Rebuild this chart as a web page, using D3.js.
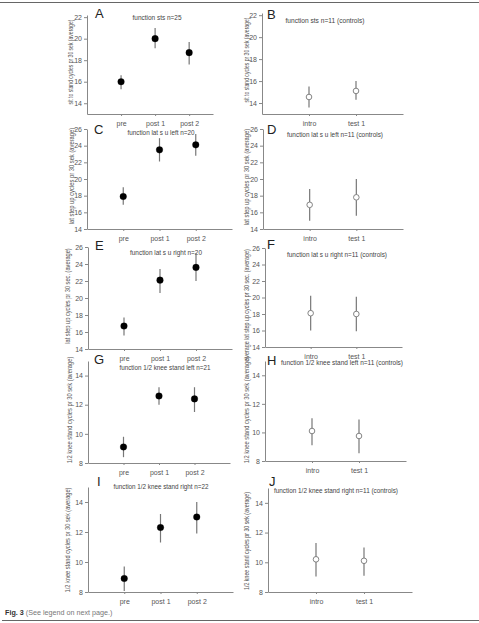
<!DOCTYPE html>
<html>
<head>
<meta charset="utf-8">
<script src="https://cdn.jsdelivr.net/npm/d3@7"></script>
<style>
  body { margin: 0; background: #fff; }
  text { font-family: "Liberation Sans", Arial, sans-serif; }
  .axis path, .axis line { stroke: #888; stroke-width: 1; }
  .axis text { fill: #555; font-size: 7px; }
</style>
</head>
<body>
<div id="chart"></div>
<script>
const groupCats = ["pre", "post 1", "post 2"];
const controlCats = ["intro", "test 1"];
const panelLetters = ["A", "B", "C", "D", "E", "F", "G", "H", "I", "J"];
const panelTitles = [
  "function sts n=25",
  "function sts n=11 (controls)",
  "function lat s u left n=20",
  "function lat s u left  n=11 (controls)",
  "function lat s u right n=20",
  "function lat s u right n=11 (controls)",
  "function 1/2 knee stand left n=21",
  "function 1/2 knee stand left n=11 (controls)",
  "function 1/2 knee stand right n=22",
  "function 1/2 knee stand right n=11 (controls)"
];
const yLabels = [
  "sit to stand cycles pr 30 sek (average)",
  "sit to stand cycles pr 30 sek (average)",
  "lat step up cycles pr 30 sek (average)",
  "lat step up cycles pr 30 sek (average)",
  "lat step up cycles pr 30 sec. (average)",
  "average lat step up cycles pr 30 sec. (average)",
  "1/2 knee stand cycles pr 30 sek (average)",
  "1/2 knee stand cycles pr 30 sek (average)",
  "1/2 knee stand cycles pr 30 sek (average)",
  "1/2 knee stand cycles pr 30 sek (average)"
];
const meanValues = [
  [16.0, 20.0, 18.7], [14.55, 15.1],
  [17.9, 23.5, 24.1], [16.9, 17.8],
  [16.7, 22.1, 23.6], [18.1, 18.0],
  [9.1, 12.6, 12.4], [10.1, 9.75],
  [8.9, 12.3, 13.0], [10.2, 10.1]
];
const upperValues = [
  [16.6, 21.0, 19.7], [15.5, 16.0],
  [19.0, 24.9, 25.4], [18.8, 20.0],
  [17.7, 23.4, 25.3], [20.2, 20.1],
  [9.8, 13.2, 13.2], [11.0, 10.9],
  [9.7, 13.2, 14.0], [11.3, 11.0]
];
const lowerValues = [
  [15.3, 19.1, 17.6], [13.6, 14.3],
  [16.9, 22.1, 22.8], [15.0, 15.6],
  [15.6, 20.6, 22.0], [16.0, 15.9],
  [8.4, 12.0, 11.5], [9.1, 8.55],
  [8.07, 11.3, 11.9], [9.05, 9.1]
];
const yDomains = [
  [13, 22.2], [13, 22.2],
  [14, 26], [14, 26], [14, 26], [14, 26],
  [8, 15], [8, 15], [8, 15], [8, 15]
];
const yTickValues = [
  [14, 16, 18, 20, 22], [14, 16, 18, 20, 22],
  [14, 16, 18, 20, 22, 24, 26], [14, 16, 18, 20, 22, 24, 26],
  [14, 16, 18, 20, 22, 24, 26], [14, 16, 18, 20, 22, 24, 26],
  [8, 10, 12, 14], [8, 10, 12, 14], [8, 10, 12, 14], [8, 10, 12, 14]
];

// pixel layout of each panel (axis corner, ends, label spots)
const layout = [
  {x0: 87,  x1: 213, slots: 3.7, yb: 114, yt: 15,  lx: 71,  ly: 62,  ll: 100, tx: 157, ty: 20,  tl: 49,  ax: 95,  ay: 18},
  {x0: 262, x1: 403, slots: 3,   yb: 114, yt: 13,  lx: 247, ly: 60,  ll: 100, tx: 325, ty: 23,  tl: 79,  ax: 267, ay: 19},
  {x0: 87,  x1: 232, slots: 4,   yb: 229, yt: 129, lx: 72,  ly: 176, ll: 112, tx: 161, ty: 135, tl: 67,  ax: 94,  ay: 134},
  {x0: 263, x1: 403, slots: 3,   yb: 229, yt: 129, lx: 247, ly: 177, ll: 112, tx: 335, ty: 137, tl: 96,  ax: 267, ay: 134},
  {x0: 88,  x1: 232, slots: 4,   yb: 349, yt: 247, lx: 68,  ly: 296, ll: 112, tx: 166, ty: 255, tl: 72,  ax: 95,  ay: 250},
  {x0: 265, x1: 402, slots: 3,   yb: 347, yt: 248, lx: 247, ly: 305, ll: 128, tx: 337, ty: 257, tl: 100, ax: 267, ay: 249},
  {x0: 88,  x1: 230, slots: 4,   yb: 463, yt: 361, lx: 70,  ly: 410, ll: 120, tx: 165, ty: 370, tl: 91,  ax: 94,  ay: 364},
  {x0: 265, x1: 406, slots: 3,   yb: 461, yt: 361, lx: 247, ly: 410, ll: 120, tx: 342, ty: 365, tl: 122, ax: 267, ay: 365},
  {x0: 88,  x1: 233, slots: 4,   yb: 592, yt: 487, lx: 68,  ly: 540, ll: 118, tx: 161, ty: 489, tl: 95,  ax: 97,  ay: 486},
  {x0: 268, x1: 412, slots: 3,   yb: 592, yt: 488, lx: 247, ly: 541, ll: 110, tx: 336, ty: 493, tl: 124, ax: 269, ay: 486}
];

const width = 479, height = 623;

const svg = d3.select("#chart").append("svg")
  .attr("width", width).attr("height", height);

svg.append("rect").attr("width", width).attr("height", height).attr("fill", "#fff");

// frame lines top and bottom
svg.append("line").attr("x1", 0).attr("x2", width).attr("y1", 2.5).attr("y2", 2.5)
  .attr("stroke", "#666").attr("stroke-width", 1);
svg.append("line").attr("x1", 2).attr("x2", width).attr("y1", 620.5).attr("y2", 620.5)
  .attr("stroke", "#666").attr("stroke-width", 1);

panelLetters.forEach((letter, i) => {
  const L = layout[i];
  const control = i % 2 === 1;
  const cats = control ? controlCats : groupCats;

  const x = d3.scaleLinear().domain([0, L.slots]).range([L.x0, L.x1]);
  const y = d3.scaleLinear().domain(yDomains[i]).range([L.yb, L.yt]);

  const g = svg.append("g").attr("class", "panel");

  g.append("g")
    .attr("class", "axis")
    .attr("transform", `translate(${L.x0},0)`)
    .call(d3.axisLeft(y).tickValues(yTickValues[i]).tickFormat(d3.format("d"))
      .tickSize(3).tickSizeOuter(0).tickPadding(2));

  g.append("g")
    .attr("class", "axis")
    .attr("transform", `translate(0,${L.yb})`)
    .call(d3.axisBottom(x).tickValues(cats.map((c, j) => j + 1))
      .tickFormat(d => cats[d - 1]).tickSize(2).tickSizeOuter(0).tickPadding(5));

  // y label: font sized so its natural length fits, stretched a bit across
  const fs = 6.8 * L.ll / (yLabels[i].length * 3.45);
  g.append("text")
    .attr("transform", `translate(${L.lx},${L.ly}) rotate(-90) scale(1,${(6.5 / fs).toFixed(3)})`)
    .attr("text-anchor", "middle")
    .attr("dy", "0.35em")
    .attr("font-size", fs.toFixed(2))
    .attr("fill", "#555")
    .text(yLabels[i]);

  g.append("text")
    .attr("x", L.tx).attr("y", L.ty)
    .attr("text-anchor", "middle")
    .attr("font-size", 6.8)
    .attr("fill", "#444")
    .attr("textLength", L.tl)
    .attr("lengthAdjust", "spacingAndGlyphs")
    .text(panelTitles[i]);

  g.append("text")
    .attr("x", L.ax).attr("y", L.ay)
    .attr("font-size", 13)
    .attr("fill", "#222")
    .text(letter);

  const pts = cats.map((c, j) => ({
    idx: j + 1, mean: meanValues[i][j], lo: lowerValues[i][j], hi: upperValues[i][j]
  }));

  g.selectAll("line.err").data(pts).enter().append("line")
    .attr("class", "err")
    .attr("x1", d => x(d.idx)).attr("x2", d => x(d.idx))
    .attr("y1", d => y(d.lo)).attr("y2", d => y(d.hi))
    .attr("stroke", "#777").attr("stroke-width", 1.2);

  g.selectAll("circle.pt").data(pts).enter().append("circle")
    .attr("class", "pt")
    .attr("cx", d => x(d.idx)).attr("cy", d => y(d.mean))
    .attr("r", control ? 2.8 : 3.3)
    .attr("fill", control ? "#fff" : "#000")
    .attr("stroke", control ? "#777" : "#000")
    .attr("stroke-width", control ? 0.9 : 0.3);
});

// caption
const cap = svg.append("text").attr("x", 5).attr("y", 615)
  .attr("font-family", "'Open Sans', sans-serif").attr("font-size", 7.2);
cap.append("tspan").attr("font-weight", "bold").attr("fill", "#333").text("Fig. 3");
cap.append("tspan").attr("fill", "#777").text(" (See legend on next page.)");
</script>
</body>
</html>
